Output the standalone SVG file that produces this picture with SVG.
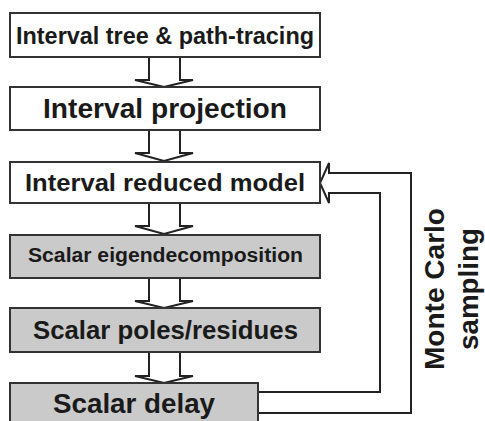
<svg xmlns="http://www.w3.org/2000/svg" width="485" height="421" viewBox="0 0 485 421">
<style>
.box{stroke:#333;stroke-width:2;fill:#fff}
.grey{fill:#cacaca}
.t{font-family:"Liberation Sans",Arial,sans-serif;font-weight:bold;fill:#1a1a1a;text-anchor:middle}
.arr{fill:#fff;stroke:#222;stroke-width:2;stroke-linejoin:miter}
</style>
<rect width="485" height="421" fill="#fff"/>
<g id="connectors">
<path class="arr" d="M149,57 V80 H135 L164,87 L193,80 H180 V57"/>
<path class="arr" d="M149,130 V153 H135 L164,161 L193,153 H180 V130"/>
<path class="arr" d="M149,203 V226 H135 L164,234 L193,226 H180 V203"/>
<path class="arr" d="M149,279 V301 H135 L164,308 L193,301 H180 V279"/>
<path class="arr" d="M149,352 V376 H135 L164,383 L193,376 H180 V352"/>
<path class="arr" d="M258,392 H380 V193 H329 V203 L320,183 L329,163 V173 H411 V413 H258"/>
</g>
<g id="n1"><rect class="box" x="10" y="13" width="310" height="44"/><text class="t" x="165" y="43.5" font-size="23" textLength="298" lengthAdjust="spacingAndGlyphs">Interval tree &amp; path-tracing</text></g>
<g id="n2"><rect class="box" x="10" y="87" width="310" height="43"/><text class="t" x="165" y="118" font-size="27" textLength="244" lengthAdjust="spacingAndGlyphs">Interval projection</text></g>
<g id="n3"><rect class="box" x="10" y="162" width="310" height="41"/><text class="t" x="165" y="190.5" font-size="23" textLength="280" lengthAdjust="spacingAndGlyphs">Interval reduced model</text></g>
<g id="n4"><rect class="box grey" x="10" y="235" width="310" height="43"/><text class="t" x="165.5" y="262" font-size="20" textLength="275" lengthAdjust="spacingAndGlyphs">Scalar eigendecomposition</text></g>
<g id="n5"><rect class="box grey" x="10" y="308" width="310" height="44"/><text class="t" x="165.5" y="339" font-size="26" textLength="265" lengthAdjust="spacingAndGlyphs">Scalar poles/residues</text></g>
<g id="n6"><rect class="box grey" x="10" y="383" width="248" height="50"/><text class="t" x="134" y="413" font-size="28" textLength="162" lengthAdjust="spacingAndGlyphs">Scalar delay</text></g>
<g id="label">
<text class="t" transform="translate(444,289) rotate(-90)" font-size="27" textLength="162" lengthAdjust="spacingAndGlyphs">Monte Carlo</text>
<text class="t" transform="translate(478,289) rotate(-90)" font-size="27" textLength="122" lengthAdjust="spacingAndGlyphs">sampling</text>
</g>
</svg>
